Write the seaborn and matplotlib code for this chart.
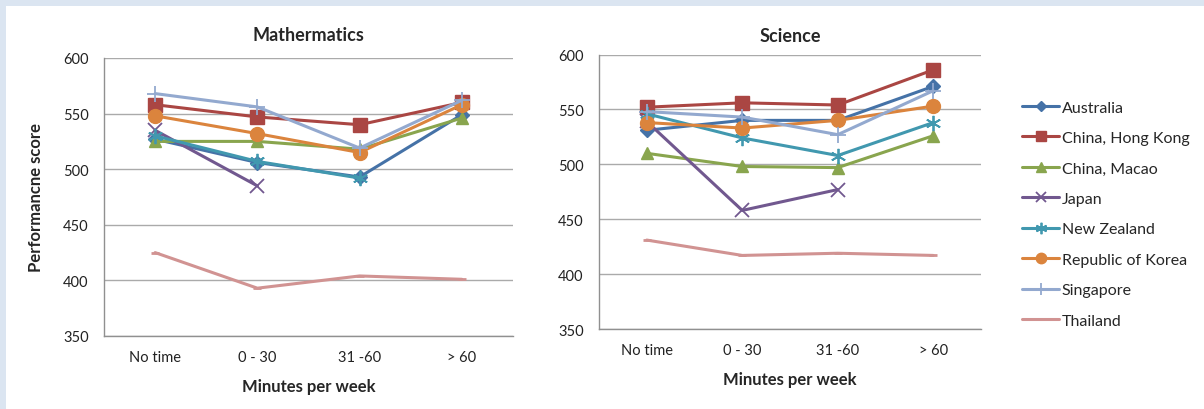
import numpy as np
import pandas as pd
import matplotlib
matplotlib.use("Agg")
import matplotlib.pyplot as plt
import seaborn as sns

# categories and scores
categories = ["No time", "0 - 30", "31 -60", "> 60"]
countries = ["Australia", "China, Hong Kong", "China, Macao", "Japan",
             "New Zealand", "Republic of Korea", "Singapore", "Thailand"]

math_australia = [527, 506, 493, 549]
math_hongkong = [558, 547, 540, 560]
math_macao = [525, 525, 518, 546]
math_japan = [535, 485, np.nan, np.nan]
math_newzealand = [530, 507, 492, np.nan]
math_korea = [548, 532, 515, 558]
math_singapore = [568, 556, 519, 562]
math_thailand = [425, 393, 404, 401]

sci_australia = [531, 540, 540, 571]
sci_hongkong = [552, 556, 554, 586]
sci_macao = [510, 498, 497, 526]
sci_japan = [539, 458, 477, np.nan]
sci_newzealand = [546, 524, 508, 538]
sci_korea = [538, 533, 540, 553]
sci_singapore = [548, 543, 527, 567]
sci_thailand = [431, 417, 419, 417]

math_scores = [math_australia, math_hongkong, math_macao, math_japan,
               math_newzealand, math_korea, math_singapore, math_thailand]
sci_scores = [sci_australia, sci_hongkong, sci_macao, sci_japan,
              sci_newzealand, sci_korea, sci_singapore, sci_thailand]

colors = ["#4572A7", "#AA4643", "#89A54E", "#71588F",
          "#4198AF", "#DB843D", "#93A9CF", "#D19392"]
markers = ["D", "s", "^", "x", (6, 2, 0), "o", "+", "_"]
msizes = [7, 10, 9, 10, 11, 10, 12, 6]
mews = [1, 1, 1, 1.3, 1.3, 1, 1.3, 2]


def long_form(scores):
    rows = []
    for name, vals in zip(countries, scores):
        for i, v in enumerate(vals):
            rows.append({"country": name, "pos": i, "score": v})
    return pd.DataFrame(rows)


sns.set_style("white")
plt.rcParams["font.family"] = ["Lato", "DejaVu Sans"]

fig = plt.figure(figsize=(12.04, 4.10), dpi=100)
fig.patch.set_facecolor("#dbe5f1")
bg = fig.add_axes([6 / 1204, 0, 1 - 6 / 1204, 1 - 7 / 410])
bg.set_facecolor("white")
bg.set_xticks([])
bg.set_yticks([])
for s in bg.spines.values():
    s.set_visible(False)

W, H = 1204, 410
ax_m = fig.add_axes([104 / W, 1 - 337 / H, 409 / W, 278 / H])
ax_s = fig.add_axes([599 / W, 1 - 330 / H, 382 / W, 274.5 / H])


def draw(ax, scores, title, ylabel):
    df = long_form(scores).dropna()
    for name, c, m, ms, mew in zip(countries, colors, markers, msizes, mews):
        sub = df[df.country == name]
        sns.lineplot(data=sub, x="pos", y="score", ax=ax, color=c, marker=m,
                     markersize=ms, markeredgewidth=mew, markeredgecolor=c,
                     linewidth=2.2, label=name, legend=False)
    ax.set_xlim(-0.5, 3.5)
    ax.set_ylim(350, 600)
    ax.set_yticks(range(350, 601, 50))
    ax.set_xticks(range(4))
    ax.set_xticklabels(categories)
    ax.set_xticks(np.arange(-0.5, 3.6, 1), minor=True)
    ax.tick_params(axis="x", which="major", length=0, pad=10, labelsize=10.5,
                   colors="#222222")
    ax.tick_params(axis="x", which="minor", length=5, width=1, color="#909090",
                   direction="out")
    ax.tick_params(axis="y", length=5, width=1, color="#909090", direction="out",
                   labelsize=10.5, labelcolor="#222222", pad=6)
    ax.yaxis.grid(True, color="#aaaaaa", linewidth=1)
    ax.set_axisbelow(True)
    for side in ["top", "right"]:
        ax.spines[side].set_visible(False)
    for side in ["left", "bottom"]:
        ax.spines[side].set_color("#909090")
        ax.spines[side].set_linewidth(1)
    ax.set_xlabel("Minutes per week", fontsize=12, fontweight="bold", labelpad=10)
    ax.set_ylabel(ylabel, fontsize=12, fontweight="bold", labelpad=14)


draw(ax_m, math_scores, "Mathermatics", "Performancne score")
draw(ax_s, sci_scores, "Science", "")
ax_m.set_title("Mathermatics", fontsize=13, fontweight="bold", pad=13)
ax_s.set_title("Science", fontsize=13, fontweight="bold", pad=10)

handles, labels = ax_m.get_legend_handles_labels()
fig.legend(handles, labels, loc="upper left", bbox_to_anchor=(1008 / W, 1 - 87 / H),
           frameon=False, fontsize=11.5, handlelength=2.3, handletextpad=0.15,
           labelspacing=1.02, markerscale=0.75)

fig.savefig("out.png", dpi=100, facecolor=fig.get_facecolor())
